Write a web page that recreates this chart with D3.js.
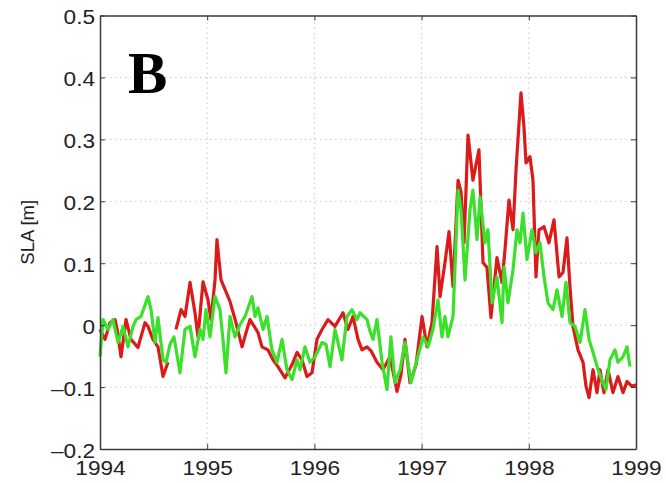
<!DOCTYPE html>
<html>
<head>
<meta charset="utf-8">
<script src="https://cdn.jsdelivr.net/npm/d3@7"></script>
<style>
  html, body { margin: 0; padding: 0; background: #fff; }
  svg { display: block; }
</style>
</head>
<body>
<svg id="chart" width="666" height="483"></svg>
<script>
// Sea level anomaly time series, 1994-1999 (decimal years, metres)
const xTicks = [1994, 1995, 1996, 1997, 1998, 1999];
const yTicks = [-0.2, -0.1, 0, 0.1, 0.2, 0.3, 0.4, 0.5];

// Red series (null marks a data gap)
const redTime = [
  1994.000, 1994.047, 1994.093, 1994.140, 1994.160, 1994.196, 1994.243, 1994.289,
  1994.354, 1994.420, 1994.448, 1994.494, 1994.541, 1994.588, 1994.634, 1994.670,
  1994.709, 1994.756, 1994.793, 1994.840, 1994.886, 1994.914, 1994.961, 1995.007,
  1995.035, 1995.073, 1995.091, 1995.129, 1995.213, 1995.259, 1995.325, 1995.371,
  1995.399, 1995.474, 1995.511, 1995.567, 1995.614, 1995.660, 1995.726, 1995.791,
  1995.838, 1995.884, 1995.931, 1995.978, 1996.024, 1996.071, 1996.127, 1996.192,
  1996.267, 1996.313, 1996.360, 1996.407, 1996.444, 1996.491, 1996.530, 1996.584,
  1996.640, 1996.705, 1996.771, 1996.808, 1996.845, 1996.892, 1996.948, 1997.004,
  1997.050, 1997.097, 1997.144, 1997.172, 1997.218, 1997.256, 1997.293, 1997.340,
  1997.368, 1997.396, 1997.433, 1997.479, 1997.535, 1997.573, 1997.610, 1997.647,
  1997.703, 1997.750, 1997.778, 1997.815, 1997.853, 1997.881, 1997.927, 1997.955,
  1997.974, 1998.011, 1998.039, 1998.067, 1998.095, 1998.142, 1998.188, 1998.235,
  1998.282, 1998.319, 1998.356, 1998.384, 1998.412, 1998.459, 1998.506, 1998.534,
  1998.562, 1998.599, 1998.636, 1998.664, 1998.701, 1998.739, 1998.785, 1998.832,
  1998.879, 1998.916, 1998.963, 1999.000
];
const redSla = [
  -0.007, -0.023, 0.004, 0.009, -0.007, -0.051, 0.009, -0.023,
  -0.036, 0.004, -0.002, -0.023, -0.035, -0.083, -0.060, null,
  -0.007, 0.025, 0.014, 0.069, 0.020, -0.019, 0.070, 0.041,
  0.009, 0.073, 0.138, 0.073, 0.038, 0.010, -0.035, -0.007,
  0.009, -0.012, -0.035, -0.040, -0.056, -0.067, -0.085, -0.064,
  -0.044, -0.056, -0.083, -0.077, -0.023, -0.007, 0.009, -0.002,
  0.020, -0.007, 0.014, -0.023, -0.040, -0.035, -0.042, -0.060,
  -0.072, -0.051, -0.107, -0.080, -0.023, -0.093, -0.064, 0.014,
  -0.035, 0.004, 0.127, 0.046, 0.101, 0.151, 0.062, 0.234,
  0.215, 0.133, 0.307, 0.234, 0.283, 0.101, 0.093, 0.012,
  0.109, 0.069, 0.122, 0.202, 0.154, 0.251, 0.375, 0.320,
  0.262, 0.272, 0.234, 0.078, 0.154, 0.159, 0.133, 0.170,
  0.078, 0.085, 0.141, 0.062, -0.002, -0.040, -0.060, -0.099,
  -0.117, -0.072, -0.109, -0.072, -0.109, -0.072, -0.109, -0.083,
  -0.109, -0.091, -0.099, -0.096
];

// Green series
const greenTime = [
  1994.000, 1994.028, 1994.075, 1994.121, 1994.168, 1994.215, 1994.261, 1994.308,
  1994.336, 1994.382, 1994.448, 1994.476, 1994.513, 1994.541, 1994.588, 1994.616,
  1994.653, 1994.690, 1994.746, 1994.793, 1994.840, 1994.886, 1994.933, 1994.961,
  1994.989, 1995.026, 1995.073, 1995.119, 1995.147, 1995.175, 1995.213, 1995.259,
  1995.306, 1995.353, 1995.418, 1995.446, 1995.474, 1995.521, 1995.558, 1995.604,
  1995.651, 1995.698, 1995.744, 1995.791, 1995.838, 1995.866, 1995.912, 1995.959,
  1996.006, 1996.071, 1996.108, 1996.146, 1996.192, 1996.257, 1996.304, 1996.351,
  1996.397, 1996.425, 1996.491, 1996.519, 1996.547, 1996.584, 1996.631, 1996.677,
  1996.714, 1996.752, 1996.799, 1996.845, 1996.901, 1996.957, 1997.013, 1997.060,
  1997.106, 1997.153, 1997.190, 1997.218, 1997.246, 1997.293, 1997.340, 1997.368,
  1997.405, 1997.451, 1997.479, 1997.517, 1997.545, 1997.591, 1997.619, 1997.657,
  1997.703, 1997.750, 1997.769, 1997.806, 1997.853, 1997.890, 1997.918, 1997.946,
  1997.983, 1998.030, 1998.067, 1998.104, 1998.142, 1998.179, 1998.226, 1998.263,
  1998.310, 1998.347, 1998.384, 1998.431, 1998.478, 1998.524, 1998.562, 1998.599,
  1998.646, 1998.692, 1998.720, 1998.757, 1998.804, 1998.832, 1998.879, 1998.916,
  1998.944
];
const greenSla = [
  -0.051, 0.009, -0.007, 0.009, -0.028, -0.002, -0.035, -0.002,
  0.009, 0.014, 0.046, 0.025, -0.028, 0.012, -0.056, -0.060,
  -0.031, -0.019, -0.077, -0.007, -0.002, -0.051, -0.007, -0.023,
  0.025, -0.019, 0.046, 0.025, -0.023, -0.077, 0.014, -0.019,
  0.001, 0.014, 0.046, 0.014, 0.028, -0.007, 0.014, -0.040,
  -0.060, -0.023, -0.072, -0.088, -0.056, -0.072, -0.035, -0.060,
  -0.051, -0.028, -0.031, -0.067, -0.007, -0.056, 0.014, 0.025,
  0.009, 0.020, 0.009, -0.010, -0.023, 0.009, -0.060, -0.104,
  -0.019, -0.093, -0.072, -0.028, -0.093, -0.056, -0.019, -0.035,
  -0.007, 0.041, -0.019, 0.014, -0.019, 0.014, 0.218, 0.186,
  0.073, 0.186, 0.218, 0.138, 0.207, 0.133, 0.154, 0.036,
  0.078, 0.004, 0.094, 0.036, 0.090, 0.154, 0.133, 0.181,
  0.106, 0.154, 0.117, 0.133, 0.078, 0.036, 0.025, 0.057,
  0.014, 0.069, 0.004, -0.002, -0.028, 0.025, -0.023, -0.044,
  -0.072, -0.093, -0.104, -0.056, -0.040, -0.060, -0.051, -0.035,
  -0.067
];

const svg = d3.select("#chart");
const margin = { left: 100, right: 30, top: 15.5, bottom: 34 };
const W = 666, H = 483;
const x0 = margin.left, x1 = W - margin.right;
const y0 = H - margin.bottom, y1 = margin.top;

const x = d3.scaleLinear().domain([1994, 1999]).range([x0, x1]);
const y = d3.scaleLinear().domain([-0.2, 0.5]).range([y0, y1]);

const fmtY = d => (d < 0 ? "\u2013" : "") + (Math.abs(d) < 1e-9 ? "0" : d3.format(".1f")(Math.abs(d)));

// Dotted grid
const grid = svg.append("g").attr("stroke", "#c8c8c8").attr("stroke-width", 1)
  .attr("stroke-dasharray", "1.5,3.5");
grid.selectAll("line.gx").data(xTicks.slice(1, -1)).join("line")
  .attr("x1", d => x(d)).attr("x2", d => x(d)).attr("y1", y0).attr("y2", y1);
grid.selectAll("line.gy").data(yTicks.slice(1, -1)).join("line")
  .attr("y1", d => y(d)).attr("y2", d => y(d)).attr("x1", x0).attr("x2", x1);

// Series
const toPoints = (t, v) => t.map((d, i) => ({ t: d, v: v[i] }));
const line = d3.line()
  .defined(d => d.v !== null)
  .x(d => x(d.t)).y(d => y(d.v))
  .curve(d3.curveLinear);

svg.append("path").datum(toPoints(redTime, redSla))
  .attr("fill", "none").attr("stroke", "#dc1a1a").attr("stroke-width", 3.2)
  .attr("stroke-linejoin", "round").attr("d", line);
svg.append("path").datum(toPoints(greenTime, greenSla))
  .attr("fill", "none").attr("stroke", "#3ae02a").attr("stroke-width", 3.2)
  .attr("stroke-linejoin", "round").attr("d", line);

// Axes (box with inward ticks on every side)
const tickLen = 5;
const axisColor = "#3a3a3a";
const fontFamily = "Liberation Sans, Arial, sans-serif";
svg.append("g").attr("class", "xaxis").attr("transform", `translate(0,${y0})`)
  .call(d3.axisBottom(x).tickValues(xTicks).tickFormat(d3.format("d")).tickSizeInner(-tickLen).tickSizeOuter(0).tickPadding(12))
  .call(g => g.select(".domain").attr("stroke", axisColor).attr("stroke-width", 1.5));
svg.append("g").attr("transform", `translate(0,${y1})`)
  .call(d3.axisTop(x).tickValues(xTicks).tickFormat("").tickSizeInner(-tickLen).tickSizeOuter(0))
  .call(g => g.select(".domain").attr("stroke", axisColor).attr("stroke-width", 1.5));
svg.append("g").attr("class", "yaxis").attr("transform", `translate(${x0},0)`)
  .call(d3.axisLeft(y).tickValues(yTicks).tickFormat(fmtY).tickSizeInner(-tickLen).tickSizeOuter(0).tickPadding(5))
  .call(g => g.select(".domain").attr("stroke", axisColor).attr("stroke-width", 1.5));
svg.append("g").attr("transform", `translate(${x1},0)`)
  .call(d3.axisRight(y).tickValues(yTicks).tickFormat("").tickSizeInner(-tickLen).tickSizeOuter(0))
  .call(g => g.select(".domain").attr("stroke", axisColor).attr("stroke-width", 1.5));

svg.selectAll(".tick line").attr("stroke", axisColor).attr("stroke-width", 1);
svg.selectAll(".tick text")
  .attr("fill", "#222")
  .attr("font-family", fontFamily)
  .attr("font-size", 19.5);
svg.selectAll(".yaxis .tick text").attr("y", 2);

// Tick labels are set slightly wide
svg.selectAll(".tick text").each(function () {
  const w = this.getComputedTextLength();
  if (w > 0) d3.select(this).attr("textLength", w * 1.16).attr("lengthAdjust", "spacingAndGlyphs");
});

// Y-axis title
svg.append("text")
  .attr("transform", `translate(34,${(y0 + y1) / 2}) rotate(-90)`)
  .attr("text-anchor", "middle")
  .attr("font-family", fontFamily)
  .attr("font-size", 18.5).attr("fill", "#222")
  .text("SLA [m]");

// Panel letter
svg.append("text")
  .attr("x", 128).attr("y", 93)
  .attr("font-family", "Liberation Serif, Times New Roman, serif")
  .attr("font-weight", "bold").attr("font-size", 59).attr("fill", "#000")
  .text("B");
</script>
</body>
</html>
